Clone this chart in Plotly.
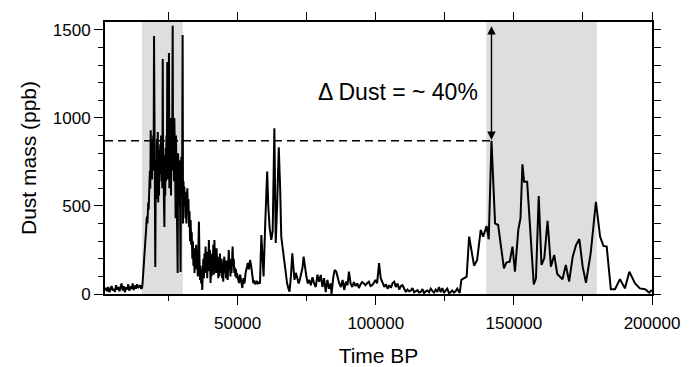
import plotly.graph_objects as go

# ---- data ----
time_bp = [
    2000, 2400, 2800, 3200, 3600, 4000, 4400, 4800, 5200, 5600, 6000, 6400, 6800, 7200, 7600, 8000,
    8400, 8800, 9200, 9600, 10000, 10400, 10800, 11200, 11600, 12000, 12400, 12800, 13200, 13600,
    14000, 14400, 14800, 15100,
    15400, 15550, 15700, 15850, 16000, 16150, 16300, 16450, 16600, 16750, 16900, 17050, 17200, 17350,
    17500, 17650, 17800, 17950, 18100, 18250, 18400, 18550, 18700, 18850, 19000, 19150, 19300, 19450,
    19600, 19750, 19900, 20050, 20200, 20350, 20500, 20650, 20800, 20950, 21100, 21250, 21400, 21550,
    21700, 21850, 22000, 22150, 22300, 22450, 22600, 22750, 22900, 23050, 23200, 23350, 23500, 23650,
    23800, 23950, 24100, 24250, 24400, 24550, 24700, 24850, 25000, 25150, 25300, 25450, 25600, 25750,
    25900, 26050, 26200, 26350, 26500, 26650, 26800, 26950, 27100, 27250, 27400, 27550, 27700, 27850,
    28000, 28150, 28300, 28450, 28600, 28750, 28900, 29050, 29200, 29350, 29500, 29650, 29800, 29950,
    30100, 30250, 30400, 30550, 30700, 30850, 31000, 31150, 31300, 31450,
    31600, 31800, 32000, 32200, 32400, 32600, 32800, 33000, 33200, 33400, 33600, 33800, 34000, 34200,
    34400, 34600, 34800, 35000, 35200, 35400, 35600, 35800, 36000, 36200, 36400, 36600, 36800, 37000,
    37200, 37400, 37600, 37800, 38000, 38200, 38400, 38600, 38800, 39000, 39200, 39400, 39600, 39800,
    40000, 40200, 40400, 40600, 40800, 41000, 41200, 41400, 41600, 41800, 42000, 42200, 42400, 42600,
    42800, 43000, 43200, 43400, 43600, 43800, 44000, 44200, 44400, 44600, 44800, 45000, 45200, 45400,
    45600, 45800, 46000, 46200, 46400, 46600, 46800, 47000, 47200, 47400, 47600, 47800, 48000, 48200,
    48400, 48600, 48800, 49000, 49200, 49400, 49600, 49800,
    50100, 50500, 50900, 51300, 51700, 52100, 52500, 52900, 53300, 53700,
    54100, 54500, 54900, 55300, 55700, 56100, 56500, 56900, 57300, 57700, 58100,
    58600, 59000, 59400, 60000, 60700, 61100, 61600, 62200, 62700, 63300, 63800, 64300, 64900, 65400,
    65800, 66400, 67000, 67500, 67900, 68400, 68800, 69300, 69800, 70200, 70600, 71100, 71600, 72100,
    72500, 73000, 73500, 73900, 74400, 74900, 75400,
    75900, 76500, 77100, 77700, 78300, 78900, 79500, 80100, 80700, 81300, 81900, 82500, 83100, 83700,
    84000, 84600, 85100, 85700, 86200, 86800, 87400, 88000, 88600, 89200, 89800, 90300, 90900, 91500,
    92100, 92700, 93300, 93900, 94500, 95100, 95700, 96300, 96900, 97500, 98100, 98700, 99300, 99900,
    100500, 101200, 101800, 102500, 103100, 103700, 104300, 104900, 105500, 106100, 106700, 107300,
    107900, 108500, 109100, 109700, 110300, 110900, 111500, 112100, 112700, 113300, 113900, 114500,
    115100, 115700, 116300, 116900, 117500, 118100, 118700, 119300, 119900, 120500, 121100, 121700,
    122300, 122900, 123500, 124100, 124700, 125300, 125900, 126500, 127100, 127700, 128300, 128900,
    129500, 130400,
    131000, 132900, 133800, 135600, 136700, 138000, 138900, 140100, 140900, 141900, 143200, 144300,
    146400, 147300, 148500, 149500, 150400, 151600, 152400, 153100, 153700, 154800, 156000, 157200,
    158000, 159000, 160000, 161000, 162200, 163400, 164600, 165700, 167600, 168800, 170000, 171300,
    172500, 173700, 174900, 176100, 177800, 179700, 181200, 182400, 183600, 185100, 186600, 188400,
    190200, 191800, 193800, 195600, 197500, 199000, 200000,
]

dust_ppb = [
    20, 35, 15, 40, 10, 25, 45, 20, 30, 12, 50, 25, 40, 15, 35, 60,
    20, 45, 10, 38, 25, 55, 18, 42, 28, 60, 22, 48, 30, 55,
    35, 40, 50, 30,
    35, 50, 80, 110, 150, 190, 220, 250, 280, 330, 370, 420, 440, 400,
    470, 520, 480, 600, 560, 700, 600, 930, 760, 880, 650, 820, 700, 900,
    760, 1466, 700, 820, 153, 600, 760, 540, 880, 600, 920, 520, 780, 560,
    820, 680, 850, 700, 900, 640, 800, 600, 1335, 610, 790, 500, 381, 760,
    560, 830, 640, 900, 700, 1318, 650, 880, 720, 1369, 600, 950, 760, 1000,
    560, 910, 800, 980, 1523, 700, 940, 640, 1000, 860, 700, 430, 900, 650,
    780, 560, 119, 800, 560, 700, 500, 760, 400, 125, 620, 780, 560, 800,
    1471, 400, 640, 560, 610, 500, 580, 430, 520, 400,
    560, 600, 480, 540, 380, 470, 300, 420, 280, 350, 200, 300, 160, 260,
    120, 240, 180, 280, 140, 230, 100, 300, 411, 200, 80, 160, 60, 140,
    23, 120, 200, 90, 230, 120, 269, 150, 240, 90, 200, 130, 307, 180,
    250, 62, 150, 100, 230, 140, 280, 110, 307, 180, 240, 120, 260, 150,
    212, 90, 180, 100, 230, 140, 119, 200, 90, 160, 70, 180, 212, 120,
    170, 90, 190, 110, 80, 160, 250, 140, 200, 100, 180, 120, 220, 269,
    160, 200, 119, 150, 100, 140, 90, 119,
    90, 62, 110, 60, 34, 90, 60, 120, 150, 176,
    140, 193, 160, 100, 62, 70, 55, 75, 60, 65, 60,
    335, 200, 99, 400, 695, 500, 375, 307, 358, 941, 290, 500, 833, 600,
    326, 250, 176, 100, 62, 30, 13, 100, 231, 150, 80, 120, 90, 60,
    80, 110, 150, 212, 140, 99, 60,
    80, 50, 95, 60, 40, 110, 70, 108, 40, 90, 11, 80, 30, 60,
    0, 90, 136, 127, 90, 60, 40, 80, 23, 70, 50, 127, 60, 40,
    68, 45, 60, 34, 55, 68, 60, 50, 62, 70, 45, 50, 62, 80,
    60, 176, 90, 62, 40, 55, 30, 50, 35, 62, 70, 40,
    60, 25, 45, 50, 30, 11, 25, 15, 20, 34, 10, 15,
    22, 8, 12, 28, 5, 15, 20, 10, 30, 18, 8, 25,
    12, 40, 10, 34, 6, 20, 30, 5, 10, 20, 8, 15,
    30, 6,
    80, 99, 326, 161, 193, 364, 326, 386, 311, 870, 401, 392,
    146, 178, 184, 269, 127, 364, 430, 737, 638, 638, 364, 55,
    89, 557, 165, 203, 416, 155, 222, 114, 84, 165, 70, 212,
    278, 312, 155, 64, 231, 524, 326, 273, 269, 27, 27, 84,
    32, 127, 61, 32, 27, 8, 23,
]

band_starts = [15400, 140000]
band_ends = [30200, 180000]

dashed_x = [2000, 141900]
dashed_level = [870, 870]

arrow_x = 141900
arrow_bottom = 875
arrow_top = 1530

label_text = "Δ Dust = ~ 40%"
label_x = 108000
label_y = 1150

x_range = [2000, 200000]
y_range = [0, 1545]

FONT = "Liberation Sans, Arial, Helvetica, sans-serif"

fig = go.Figure()

fig.add_trace(go.Scatter(
    x=dashed_x, y=dashed_level, mode="lines",
    line=dict(color="black", width=1.5, dash="8px,5px"),
    showlegend=False, hoverinfo="skip",
))

fig.add_trace(go.Scatter(
    x=time_bp, y=dust_ppb, mode="lines",
    line=dict(color="black", width=2),
    showlegend=False,
))

for x0, x1 in zip(band_starts, band_ends):
    fig.add_shape(type="rect", xref="x", yref="paper", x0=x0, x1=x1, y0=0, y1=1,
                  fillcolor="#dedede", line=dict(width=0), layer="below")

fig.add_annotation(
    x=arrow_x, y=arrow_bottom, ax=arrow_x, ay=arrow_top,
    xref="x", yref="y", axref="x", ayref="y",
    showarrow=True, arrowhead=2, arrowside="end+start", arrowsize=1.2,
    arrowwidth=1.4, arrowcolor="black", text="",
)

fig.add_annotation(
    x=label_x, y=label_y, xref="x", yref="y", text=label_text, showarrow=False,
    font=dict(family=FONT, size=23, color="black"),
)

fig.update_layout(
    width=698, height=367,
    margin=dict(l=105, r=46, t=22, b=73, autoexpand=False),
    paper_bgcolor="white", plot_bgcolor="white",
    font=dict(family=FONT, size=17, color="black"),
    xaxis=dict(
        range=x_range, tickmode="linear", tick0=0, dtick=50000,
        ticks="outside", ticklen=9, tickwidth=1.2, tickcolor="black",
        minor=dict(tickmode="linear", tick0=0, dtick=25000, ticks="outside", ticklen=5, tickwidth=1.2, tickcolor="black"),
        showline=True, linecolor="black", linewidth=2, mirror=True,
        showgrid=False, zeroline=False, tickformat="d",
        ticklabelstandoff=4, automargin=False,
        title=dict(text="Time BP", font=dict(size=21), standoff=18),
        tickfont=dict(size=17),
    ),
    xaxis2=dict(
        range=x_range, overlaying="x", side="top", tickmode="linear", tick0=0, dtick=25000,
        ticks="outside", ticklen=9, tickwidth=1.2, tickcolor="black",
        showticklabels=False, showgrid=False, zeroline=False, showline=False, automargin=False,
    ),
    yaxis=dict(
        range=y_range, tickmode="linear", tick0=0, dtick=500,
        ticks="outside", ticklen=9, tickwidth=1.2, tickcolor="black",
        minor=dict(tickmode="linear", tick0=0, dtick=100, ticks="outside", ticklen=5, tickwidth=1.2, tickcolor="black"),
        showline=True, linecolor="black", linewidth=2, mirror=True,
        showgrid=False, zeroline=False, automargin=False,
        title=dict(text="Dust mass (ppb)", font=dict(size=21), standoff=10),
        tickfont=dict(size=17),
    ),
    yaxis2=dict(
        range=y_range, overlaying="y", side="right", tickmode="linear", tick0=0, dtick=100,
        ticks="outside", ticklen=8, tickwidth=1.2, tickcolor="black",
        showticklabels=False, showgrid=False, zeroline=False, showline=False, automargin=False,
    ),
)

# invisible trace so the secondary (tick-only) axes are drawn
fig.add_trace(go.Scatter(x=[x_range[0]], y=[y_range[0]], xaxis="x2", yaxis="y2",
                         mode="markers", marker=dict(opacity=0), showlegend=False, hoverinfo="skip"))

fig.write_html("out.html")
